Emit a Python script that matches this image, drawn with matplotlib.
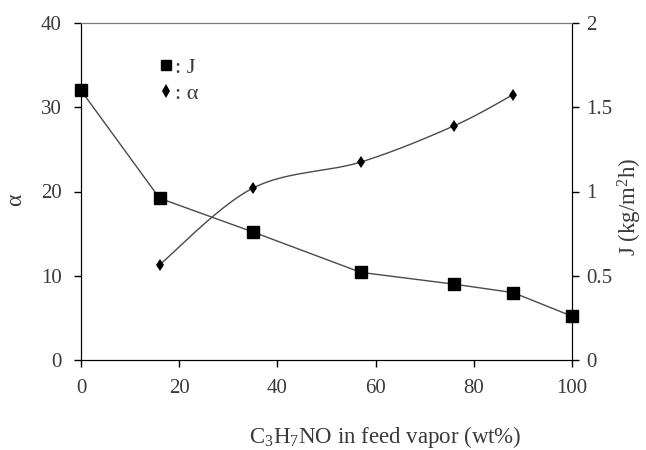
import numpy as np
import matplotlib
matplotlib.use("Agg")
import matplotlib.pyplot as plt
from matplotlib.lines import Line2D

plt.rcParams['font.family'] = ['Liberation Serif', 'DejaVu Serif']
plt.rcParams['mathtext.fontset'] = 'custom'
plt.rcParams['mathtext.rm'] = 'Liberation Serif'
plt.rcParams['mathtext.it'] = 'Liberation Serif:italic'

# Flux J (right axis) versus C3H7NO content
x_flux = [0, 16, 35, 57, 76, 88, 100]
flux = [1.60, 0.96, 0.76, 0.52, 0.45, 0.40, 0.26]

# Separation factor alpha (left axis)
x_alpha = [16, 35, 57, 76, 88]
alpha = [11.3, 20.4, 23.5, 27.8, 31.5]

x_ticks = [0, 20, 40, 60, 80, 100]
alpha_ticks = [0, 10, 20, 30, 40]
flux_ticks = [0, 0.5, 1, 1.5, 2]
flux_tick_labels = ['0', '0.5', '1', '1.5', '2']

TEXT = '#3a3a3a'
LINE = '#4a4a4a'


def smooth_curve(xs, ys, sx, sy, n=40):
    """Bezier smoothing through points (tension 1/6), done in scaled units."""
    p = np.column_stack([np.asarray(xs) / sx, np.asarray(ys) / sy])
    pts = np.vstack([p[0], p, p[-1]])
    out = []
    t = np.linspace(0, 1, n)[:, None]
    for i in range(1, len(pts) - 2):
        p0, p1 = pts[i], pts[i + 1]
        c1 = p0 + (pts[i + 1] - pts[i - 1]) / 6.0
        c2 = p1 - (pts[i + 2] - pts[i]) / 6.0
        seg = ((1 - t) ** 3) * p0 + 3 * ((1 - t) ** 2) * t * c1 + 3 * (1 - t) * t ** 2 * c2 + t ** 3 * p1
        out.append(seg if i == 1 else seg[1:])
    out = np.vstack(out)
    return out[:, 0] * sx, out[:, 1] * sy


fig = plt.figure(figsize=(6.46, 4.5), dpi=100)
ax = fig.add_axes([81 / 646, 1 - 360 / 450, 491 / 646, 337 / 450])
ax2 = ax.twinx()

ax.set_xlim(0, 100)
ax.set_ylim(0, 40)
ax2.set_ylim(0, 2)

# alpha: smoothed line with small diamonds
sx, sy = smooth_curve(x_alpha, alpha, 100.0, 40.0)
ax.plot(sx, sy, color=LINE, lw=1.0, zorder=2)
ax.plot(x_alpha, alpha, linestyle='none', marker='d', markersize=6.5,
        color='black', markeredgewidth=0, zorder=3, clip_on=False)

# J: straight segments with square markers
ax2.plot(x_flux, flux, color=LINE, lw=1.0, marker='s', markersize=8,
         markerfacecolor='black', markeredgecolor='black', zorder=3,
         clip_on=False)

ax.set_xticks(x_ticks)
ax.set_yticks(alpha_ticks)
ax2.set_yticks(flux_ticks)
ax2.set_yticklabels(flux_tick_labels)

for a in (ax, ax2):
    a.tick_params(direction='out', length=5, width=1.0, color='black',
                  labelsize=15, labelcolor=TEXT)
ax.tick_params(axis='x', pad=9)
ax.tick_params(axis='y', pad=9)
ax2.tick_params(axis='y', pad=5)

for a in (ax, ax2):
    a.spines['left'].set_color('black')
    a.spines['bottom'].set_color('black')
    a.spines['right'].set_color('black')
    a.spines['top'].set_color('#7a7a7a')
    a.spines['top'].set_linewidth(0.8)

fig.text(385 / 646, 1 - 437 / 450,
         r'C$\mathregular{_3}$H$\mathregular{_7}$NO in feed vapor (wt%)',
         fontsize=16.5, color=TEXT, ha='center', va='center')
fig.text(16 / 646, 1 - 200 / 450, 'α', fontsize=17, color=TEXT,
         rotation=90, ha='center', va='center')
fig.text(630 / 646, 1 - 207 / 450, r'J (kg/m$\mathregular{^2}$h)',
         fontsize=16.5, color=TEXT, rotation=90, ha='center', va='center')

handles = [
    Line2D([], [], linestyle='none', marker='s', markersize=7.5, color='black'),
    Line2D([], [], linestyle='none', marker='d', markersize=7, color='black',
           markeredgewidth=0),
]
leg = ax.legend(handles, [': J', ': α'], loc='upper left',
                bbox_to_anchor=(0.142, 0.925), frameon=False, fontsize=16,
                handlelength=0.6, handletextpad=0.1, labelspacing=0.25,
                borderaxespad=0)
for t in leg.get_texts():
    t.set_color(TEXT)

fig.savefig('out.png', dpi=100)
